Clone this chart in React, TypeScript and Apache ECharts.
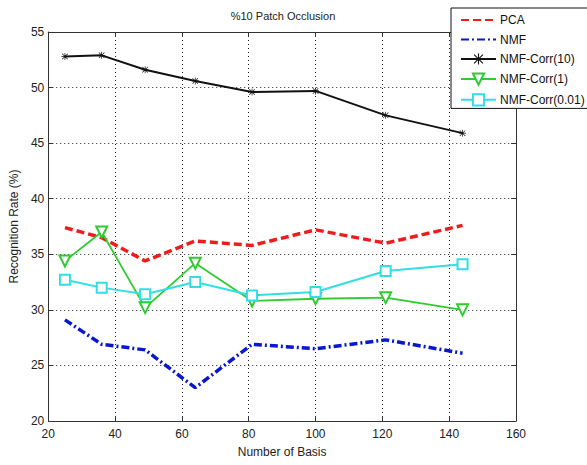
import React, { useEffect, useRef } from "react";
import * as echarts from "echarts";

const basis = [25, 36, 49, 64, 81, 100, 121, 144];
const pca = [37.4, 36.5, 34.4, 36.2, 35.8, 37.2, 36.0, 37.6];
const nmf = [29.1, 26.9, 26.4, 23.0, 26.9, 26.5, 27.3, 26.1];
const corr10 = [52.8, 52.9, 51.6, 50.6, 49.6, 49.7, 47.5, 45.9];
const corr1 = [34.4, 37.0, 30.2, 34.2, 30.8, 31.0, 31.1, 30.0];
const corr001 = [32.7, 32.0, 31.4, 32.5, 31.3, 31.6, 33.5, 34.1];

const FONT = "'Liberation Sans', Arial, sans-serif";
const ASTERISK =
  "path://M0,4.5L10,4.5L10,5.5L0,5.5Z M4.5,0L5.5,0L5.5,10L4.5,10Z M0.7,1.4L1.4,0.7L9.3,8.6L8.6,9.3Z M8.6,0.7L9.3,1.4L1.4,9.3L0.7,8.6Z";

const pairs = (ys: number[]) => basis.map((x, i) => [x, ys[i]]);

export default function App() {
  const ref = useRef<HTMLDivElement>(null);
  useEffect(() => {
    if (!ref.current) return;
    const chart = echarts.init(ref.current, undefined, { renderer: "svg" });
    const grid = { left: 44, right: 71, top: 32, bottom: 44 };
    const axisLine = { show: true, lineStyle: { color: "#333", width: 1 } };
    const tick = { show: true, inside: true, length: 5, lineStyle: { color: "#333" } };
    const gridLine = { show: true, lineStyle: { color: "#222", type: [1, 3], width: 1 } };
    const hiddenSymbol = { color: "rgba(0,0,0,0)", borderColor: "rgba(0,0,0,0)", borderWidth: 0, opacity: 0 };
    chart.setOption({
      animation: false,
      backgroundColor: "#fff",
      textStyle: { fontFamily: FONT },
      grid,
      graphic: [
        {
          type: "text",
          x: 283,
          y: 16,
          style: {
            text: "%10 Patch Occlusion",
            fontSize: 11,
            fontFamily: FONT,
            fill: "#222",
            textAlign: "center",
            textVerticalAlign: "middle",
          },
        },
      ],
      xAxis: [
        {
          type: "value",
          min: 20,
          max: 160,
          interval: 20,
          position: "bottom",
          name: "Number of Basis",
          nameLocation: "middle",
          nameGap: 25,
          nameTextStyle: { fontSize: 12, color: "#222", fontFamily: FONT },
          axisLine,
          axisTick: tick,
          axisLabel: { fontSize: 12, color: "#222", margin: 7, fontFamily: FONT },
          splitLine: gridLine,
        },
        {
          type: "value",
          min: 20,
          max: 160,
          interval: 20,
          position: "top",
          axisLine,
          axisTick: tick,
          axisLabel: { show: false },
          splitLine: { show: false },
        },
      ],
      yAxis: [
        {
          type: "value",
          min: 20,
          max: 55,
          interval: 5,
          position: "left",
          name: "Recognition Rate (%)",
          nameLocation: "middle",
          nameGap: 27,
          nameTextStyle: { fontSize: 12, color: "#222", fontFamily: FONT },
          axisLine,
          axisTick: tick,
          axisLabel: { fontSize: 12, color: "#222", margin: 4, fontFamily: FONT },
          splitLine: gridLine,
        },
        {
          type: "value",
          min: 20,
          max: 55,
          interval: 5,
          position: "right",
          axisLine,
          axisTick: tick,
          axisLabel: { show: false },
          splitLine: { show: false },
        },
      ],
      legend: {
        orient: "vertical",
        left: 451,
        top: 8,
        padding: [6, 30, 2, 9],
        itemWidth: 35,
        itemHeight: 14,
        itemGap: 7.5,
        backgroundColor: "#fff",
        borderColor: "#111",
        borderWidth: 1,
        borderRadius: 0,
        textStyle: { fontSize: 12, color: "#111", fontFamily: FONT, padding: [0, 0, 0, -1] },
        data: [
          { name: "PCA", itemStyle: hiddenSymbol },
          { name: "NMF", itemStyle: hiddenSymbol },
          "NMF-Corr(10)",
          "NMF-Corr(1)",
          "NMF-Corr(0.01)",
        ],
      },
      series: [
        {
          name: "PCA",
          type: "line",
          data: pairs(pca),
          symbol: "none",
          lineStyle: { color: "#ee1c1c", width: 3.5, type: [8, 4] },
          itemStyle: { color: "#ee1c1c" },
        },
        {
          name: "NMF",
          type: "line",
          data: pairs(nmf),
          symbol: "none",
          lineStyle: { color: "#0a18cc", width: 3.5, type: [8, 3, 2, 3] },
          itemStyle: { color: "#0a18cc" },
        },
        {
          name: "NMF-Corr(10)",
          type: "line",
          data: pairs(corr10),
          symbol: ASTERISK,
          symbolSize: 7,
          lineStyle: { color: "#111", width: 2 },
          itemStyle: { color: "#111" },
        },
        {
          name: "NMF-Corr(1)",
          type: "line",
          data: pairs(corr1),
          symbol: "emptyTriangle",
          symbolRotate: 180,
          symbolSize: 11,
          lineStyle: { color: "#2ecc2e", width: 1.8 },
          itemStyle: { color: "#2ecc2e", borderWidth: 1.3 },
        },
        {
          name: "NMF-Corr(0.01)",
          type: "line",
          data: pairs(corr001),
          symbol: "emptyRect",
          symbolSize: 10,
          lineStyle: { color: "#33dde6", width: 2 },
          itemStyle: { color: "#33dde6", borderWidth: 1.3 },
        },
      ],
    });
    return () => chart.dispose();
  }, []);
  return <div ref={ref} style={{ width: 587, height: 465, position: "absolute", left: 0, top: 0 }} />;
}
